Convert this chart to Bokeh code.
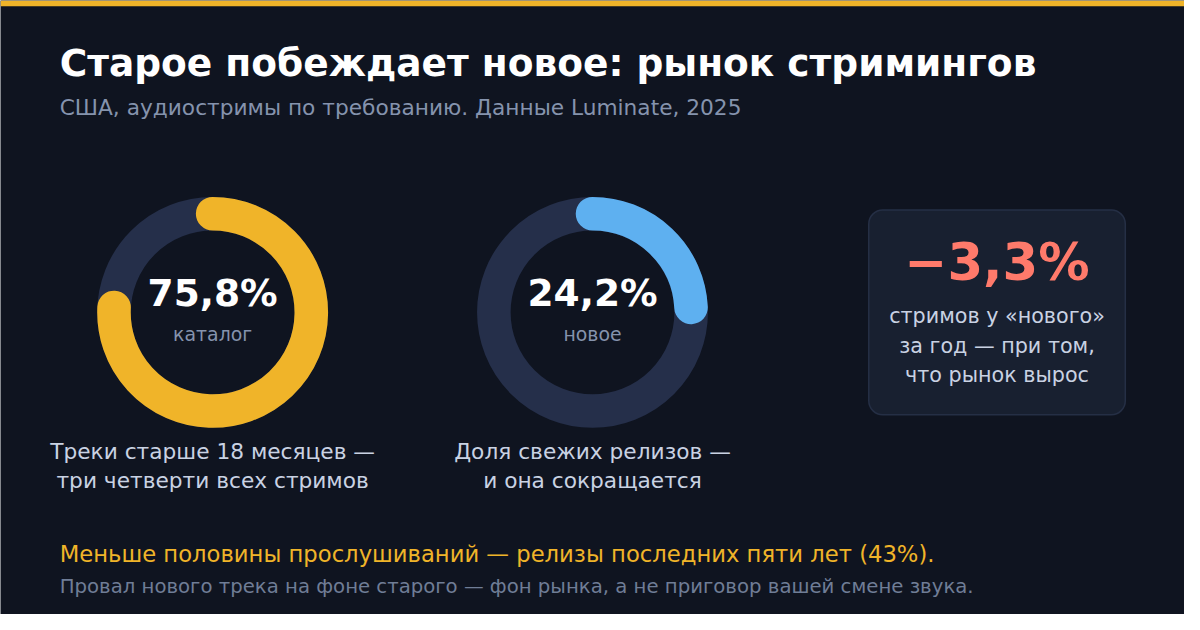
import math
from bokeh.plotting import figure
from bokeh.models import Range1d
from bokeh.core.properties import value
from bokeh.embed import file_html
from bokeh.resources import INLINE

# --- data ---
title = "Старое побеждает новое: рынок стримингов"
subtitle = "США, аудиостримы по требованию. Данные Luminate, 2025"
shares = [75.8, 24.2]
share_labels = ["каталог", "новое"]
share_colors = ["#f0b429", "#5eb0f0"]
captions = [["Треки старше 18 месяцев —", "три четверти всех стримов"],
            ["Доля свежих релизов —", "и она сокращается"]]
new_change = -3.3
card_lines = ["стримов у «нового»", "за год — при том,", "что рынок вырос"]
note = "Меньше половины прослушиваний — релизы последних пяти лет (43%)."
note2 = "Провал нового трека на фоне старого — фон рынка, а не приговор вашей смене звука."

W, H = 1184, 614
S = W / 1200.0          # page coords are 1200x630, drawn into a 1184px wide figure
FONT = value("DejaVu Sans")
BG = "#0f1420"
TRACK = "#252f4a"


def fy(y):
    # convert a top-down pixel y into the figure's y
    return 630 - y


def px(size):
    return "%.1fpx" % (size * S)


def fmt(v):
    s = ("%.1f" % abs(v)).replace(".", ",") + "%"
    return ("\u2212" + s) if v < 0 else s


def txt(x, y, t, size, color, bold=False, align="left"):
    p.text(x=x, y=[fy(v) for v in y], text=t, text_font=FONT,
           text_font_style="bold" if bold else "normal", text_font_size=px(size),
           text_color=color, text_align=align, text_baseline="middle")


p = figure(width=W, height=H, x_range=Range1d(0, 1200), y_range=Range1d(0, 630),
           output_backend="svg", toolbar_location=None, min_border=0)
p.axis.visible = False
p.grid.visible = False
p.outline_line_color = None
p.background_fill_color = BG
p.border_fill_color = BG

# accent bar on top
p.quad(left=0, right=1200, bottom=fy(6), top=630, fill_color="#f0b429", line_color=None)

# title block
txt([60], [64], [title], 38, "#ffffff", bold=True)
txt([60], [110], [subtitle], 22, "#8593ad")

# donuts
centers = [215, 600]
cy = fy(320)
ring_r = 100
ring_w = 34 * S
for cx, share, lab, col, cap in zip(centers, shares, share_labels, share_colors, captions):
    p.circle(x=[cx], y=[cy], radius=ring_r, fill_color=None, line_color=TRACK, line_width=ring_w)
    sweep = share / 100.0 * 2 * math.pi
    p.arc(x=[cx], y=[cy], radius=ring_r, start_angle=math.pi / 2,
          end_angle=math.pi / 2 - sweep, direction="clock",
          line_color=col, line_width=ring_w, line_cap="round")
    txt([cx], [300], [fmt(share)], 38, "#ffffff", bold=True, align="center")
    txt([cx], [342], [lab], 19.2, "#8593ad", align="center")
    txt([cx, cx], [463, 493], cap, 22, "#c9d2e3", align="center")

# card with the yearly change
p.quad(left=880, right=1140, bottom=fy(425), top=fy(215), fill_color="#182030",
       line_color="#252f45", line_width=1.5, border_radius=14)
txt([1010], [268], [fmt(new_change)], 52, "#ff7a6b", bold=True, align="center")
txt([1010] * 3, [324, 354, 384], card_lines, 21, "#c9d2e3", align="center")

# notes at the bottom
txt([60], [568], [note], 23, "#f0b429")
txt([60], [601], [note2], 20, "#6f7d96")

open("out.html", "w").write(file_html(p, INLINE))
